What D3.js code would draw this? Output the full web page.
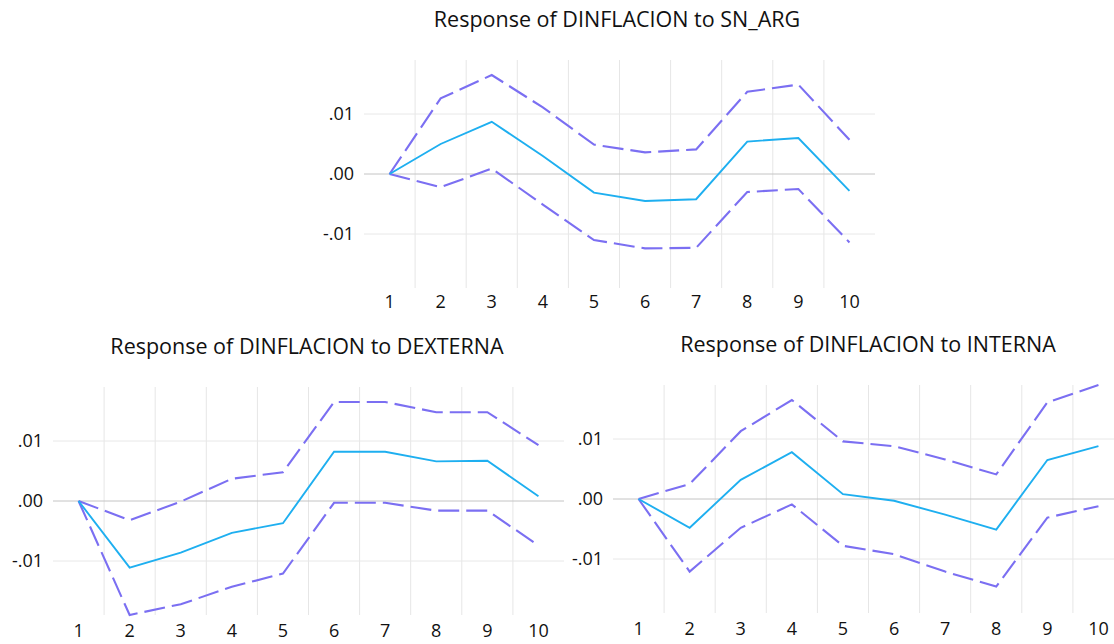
<!DOCTYPE html>
<html>
<head>
<meta charset="utf-8">
<script src="https://cdn.jsdelivr.net/npm/d3@7"></script>
<style>
  html, body { margin: 0; padding: 0; background: #ffffff; }
  svg { display: block; font-family: "Open Sans", "Liberation Sans", sans-serif; }
</style>
</head>
<body>
<svg id="chart" width="1114" height="644"></svg>
<script>
// Impulse response horizon (periods)
const periods = [1, 2, 3, 4, 5, 6, 7, 8, 9, 10];
const yTicks = [-0.01, 0, 0.01];

// Response of DINFLACION to SN_ARG
const snArgResp  = [0, 0.0050, 0.0087, 0.0030, -0.0031, -0.0045, -0.0042, 0.0054, 0.0060, -0.0028];
const snArgUpper = [0, 0.0126, 0.0165, 0.0111, 0.0049, 0.0036, 0.0041, 0.0137, 0.0149, 0.0057];
const snArgLower = [0, -0.0022, 0.0009, -0.0051, -0.0110, -0.0124, -0.0123, -0.0030, -0.0025, -0.0114];

// Response of DINFLACION to DEXTERNA
const dextResp  = [0, -0.0111, -0.0086, -0.0053, -0.0037, 0.0082, 0.0082, 0.0066, 0.0067, 0.0008];
const dextUpper = [0, -0.0032, -0.0001, 0.0037, 0.0048, 0.0165, 0.0165, 0.0148, 0.0148, 0.0093];
const dextLower = [0, -0.0190, -0.0172, -0.0143, -0.0121, -0.0003, -0.0003, -0.0016, -0.0016, -0.0074];

// Response of DINFLACION to INTERNA
const intResp  = [0, -0.0048, 0.0032, 0.0078, 0.0008, -0.0003, -0.0026, -0.0051, 0.0065, 0.0088];
const intUpper = [0, 0.0025, 0.0113, 0.0165, 0.0096, 0.0088, 0.0066, 0.0041, 0.0161, 0.0190];
const intLower = [0, -0.0121, -0.0048, -0.0009, -0.0078, -0.0092, -0.0121, -0.0146, -0.0031, -0.0012];

const svg = d3.select("#chart");

const panels = [
  { title: "Response of DINFLACION to SN_ARG", resp: snArgResp, upper: snArgUpper, lower: snArgLower,
    left: 364, top: 60, titleX: 617, titleY: 27, xLabelY: 308 },
  { title: "Response of DINFLACION to DEXTERNA", resp: dextResp, upper: dextUpper, lower: dextLower,
    left: 53, top: 387, titleX: 307, titleY: 354, xLabelY: 637 },
  { title: "Response of DINFLACION to INTERNA", resp: intResp, upper: intUpper, lower: intLower,
    left: 613, top: 385, titleX: 868, titleY: 352, xLabelY: 635 }
];

const plotW = 511, plotH = 228;
// ".01", ".00", "-.01" style labels with an ASCII hyphen for negatives
const tickFmt = d => d3.format(".2f")(d).replace("\u2212", "-").replace("0.", ".");
const ink = "#111111";

panels.forEach(p => {
  const g = svg.append("g");
  const x = d3.scaleBand().domain(periods).range([p.left, p.left + plotW]);
  const y = d3.scaleLinear().domain([-0.019, 0.019]).range([p.top + plotH, p.top]);
  const cx = d => x(d) + x.bandwidth() / 2;

  // vertical grid at category boundaries
  g.append("g").selectAll("line").data(periods.slice(1)).join("line")
    .attr("x1", d => x(d)).attr("x2", d => x(d))
    .attr("y1", p.top).attr("y2", p.top + plotH)
    .attr("stroke", "#e6e6e6").attr("stroke-width", 1);

  // horizontal grid, zero line darker
  g.append("g").selectAll("line").data(yTicks).join("line")
    .attr("x1", p.left).attr("x2", p.left + plotW)
    .attr("y1", d => y(d)).attr("y2", d => y(d))
    .attr("stroke", d => d === 0 ? "#c4c4c4" : "#e8e8e8").attr("stroke-width", 1);

  // y axis labels
  const ya = g.append("g").attr("transform", `translate(${p.left},0)`)
    .call(d3.axisLeft(y).tickValues(yTicks).tickFormat(tickFmt).tickSize(0).tickPadding(10));
  ya.select(".domain").remove();
  ya.selectAll("text").attr("fill", ink).style("font-size", "18px")
    .style("font-family", "\"Open Sans\", sans-serif");

  // x axis labels
  const xa = g.append("g").attr("transform", `translate(0,${p.xLabelY - 13})`)
    .call(d3.axisBottom(x).tickSize(0).tickPadding(0));
  xa.select(".domain").remove();
  xa.selectAll("text").attr("fill", ink).style("font-size", "18px")
    .style("font-family", "\"Open Sans\", sans-serif")
    .attr("dy", null).attr("y", 13);

  const line = d3.line().x((d, i) => cx(periods[i])).y(d => y(d));

  [p.upper, p.lower].forEach(band => {
    g.append("path").datum(band).attr("d", line)
      .attr("fill", "none").attr("stroke", "#7b6ff2").attr("stroke-width", 2.1)
      .attr("stroke-dasharray", "21,7");
  });
  g.append("path").datum(p.resp).attr("d", line)
    .attr("fill", "none").attr("stroke", "#1eaff0").attr("stroke-width", 1.9);

  g.append("text").attr("x", p.titleX).attr("y", p.titleY)
    .attr("text-anchor", "middle").attr("fill", ink)
    .style("font-size", "21.5px").text(p.title);
});
</script>
</body>
</html>
